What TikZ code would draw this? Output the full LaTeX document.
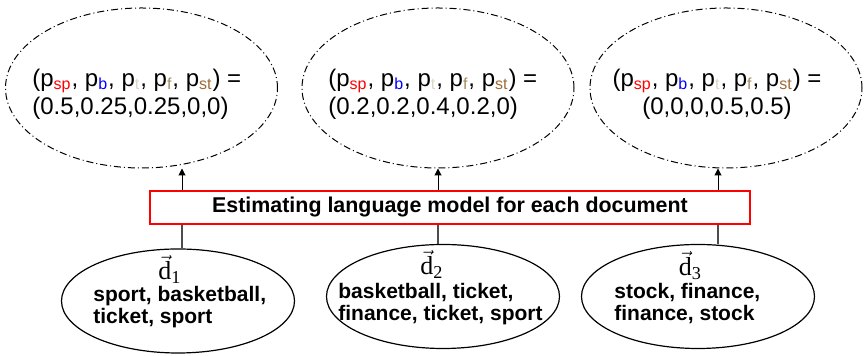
\documentclass[tikz,border=0pt]{standalone}
\usepackage{fontspec}
\usepackage{amsmath}
\setmainfont{Liberation Serif}
\setsansfont{Liberation Sans}
\usetikzlibrary{shapes.geometric,arrows.meta}
\definecolor{cT}{HTML}{DDD5C5}
\definecolor{cF}{HTML}{A38A62}
\definecolor{cST}{HTML}{A06A36}
\newcommand\pc[2]{\textcolor{#1}{\textsubscript{#2}}}
\newcommand\plist{(p\pc{red}{sp}, p\pc{blue}{b}, p\pc{cT}{t}, p\pc{cF}{f}, p\pc{cST}{st}) =}
\begin{document}
\begin{tikzpicture}[x=0.5pt,y=-0.5pt,
  lm/.style={ellipse, draw, line width=0.5pt, dash pattern=on 3.5pt off 1.5pt on 0.5pt off 1.5pt,
    minimum width=136pt, minimum height=80pt, inner sep=0pt},
  doc/.style={ellipse, draw, line width=0.6pt, minimum width=116.5pt, minimum height=52pt, inner sep=0pt},
  lmtext/.style={font=\sffamily\fontsize{12}{14}\selectfont, inner sep=0pt, align=left},
  doctext/.style={font=\sffamily\bfseries\fontsize{10.5}{11}\selectfont, inner sep=0pt, align=left, anchor=west},
  vecd/.style={font=\fontsize{13}{15}\selectfont, inner sep=0pt, anchor=base},
  est/.style={draw=red, line width=0.6pt, minimum width=300pt, minimum height=16.5pt, inner sep=0pt,
    font=\sffamily\bfseries\fontsize{10.7}{12}\selectfont},
  conn/.style={draw=black!70, line width=0.8pt},
  arr/.style={draw=black, line width=0.5pt, -{Triangle[length=3.5pt,width=3.5pt]}}
]
\useasboundingbox (0,0) rectangle (864,356);

% top ellipses
\node[lm] (t1) at (141.5,88) {};
\node[lm] (t2) at (438,88) {};
\node[lm] (t3) at (726,88) {};
\node[lmtext, anchor=west] (tt1) at (32,94) {\plist\\(0.5,0.25,0.25,0,0)};
\node[lmtext, anchor=west] (tt2) at (328,94) {\plist\\(0.2,0.2,0.4,0.2,0)};
\node[lmtext, align=center] (tt3) at (717,94) {\plist\\(0,0,0,0.5,0.5)};

% estimation box
\node[est] (box) at (450,207.5) {Estimating language model for each document};

% bottom ellipses
\node[doc] (b1) at (178,301) {};
\node[doc] (b2) at (443,296.5) {};
\node[doc] (b3) at (698,296.5) {};
\node[vecd] (d1) at (170,280) {$\vec{\textrm{d}}_{\textrm{1}}$};
\node[vecd] (d2) at (432,275) {$\vec{\textrm{d}}_{\textrm{2}}$};
\node[vecd] (d3) at (690.5,276) {$\vec{\textrm{d}}_{\textrm{3}}$};
\node[doctext] (w1) at (93,307) {sport, basketball,\\ticket, sport};
\node[doctext] (w2) at (338,304) {basketball, ticket,\\finance, ticket, sport};
\node[doctext] (w3) at (614,304) {stock, finance,\\finance, stock};

% connectors
\coordinate (x1) at (182,0);
\coordinate (x2) at (438,0);
\coordinate (x3) at (718,0);
\draw[conn] (b1.north -| x1) -- (box.south -| x1);
\draw[conn] (b2.north -| x2) -- (box.south -| x2);
\draw[conn] (b3.north -| x3) -- (box.south -| x3);
\draw[arr] (box.north -| x1) -- (t1.south -| x1);
\draw[arr] (box.north -| x2) -- (t2.south -| x2);
\draw[arr] (box.north -| x3) -- (t3.south -| x3);
\end{tikzpicture}
\end{document}
